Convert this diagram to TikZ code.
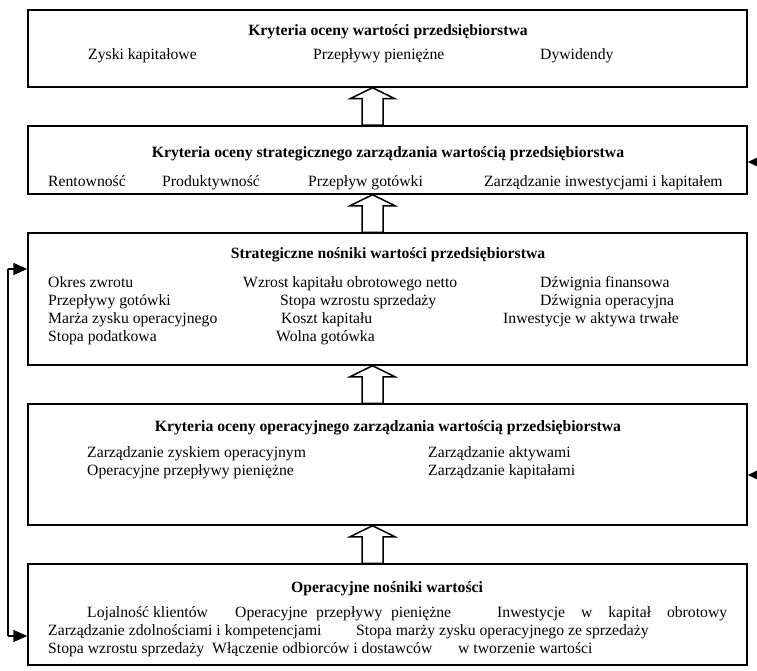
\documentclass[tikz,border=0pt]{standalone}
\usepackage{fontspec}
\setmainfont{Liberation Serif}
\usetikzlibrary{arrows.meta,calc}
\begin{document}
\begin{tikzpicture}[x=1pt,y=-1pt,
  box/.style={draw, line width=1.5pt, rectangle, inner sep=0pt, minimum width=719pt},
  ttl/.style={font=\fontsize{15.7}{18}\selectfont\bfseries, anchor=base, inner sep=0pt},
  itm/.style={font=\fontsize{15.7}{18}\selectfont, anchor=base west, inner sep=0pt},
  blk/.style={draw, line width=1.5pt, fill=white, line join=miter},
  rconn/.style={line width=1.5pt, -{Triangle[length=10pt,width=9pt]}},
  lconn/.style={line width=1.5pt, -{Triangle[length=14pt,width=12pt]}}
]
\useasboundingbox (0,0) rectangle (757,671);
% boxes
\node[box, minimum height=77pt]  (b1) at (387.5,48.5) {};
\node[box, minimum height=68pt]  (b2) at (387.5,160) {};
\node[box, minimum height=132pt] (b3) at (387.5,299) {};
\node[box, minimum height=121pt] (b4) at (387.5,464.5) {};
\node[box, minimum height=101pt] (b5) at (387.5,614.5) {};
% block arrows
\coordinate (ax) at (372.5,0);
\foreach \u/\l in {b1/b2,b2/b3,b3/b4,b4/b5}{
  \draw[blk] (\u.south -| ax) -- ++(22.5,11) -- ++(-12,0) |- (\l.north -| ax)
     -- ++(-10.5,0) |- ($(\u.south -| ax)+(-22.5,11)$) -- cycle;
}
% right arrows
\coordinate (r2) at (757,162);
\coordinate (r4) at (757,475);
\draw[rconn] (r2) -- (r2 -| b2.east);
\draw[rconn] (r4) -- (r4 -| b4.east);
% left connector
\coordinate (l3) at (8,269);
\coordinate (l5) at (8,636);
\draw[line width=1.5pt] (l3) -- (l5);
\draw[lconn] (l3) -- (l3 -| b3.west);
\draw[lconn] (l5) -- (l5 -| b5.west);
% box 1
\node[ttl] (t1) at (388,36) {Kryteria oceny wartości przedsiębiorstwa};
\node[itm] (i11) at (88,60) {Zyski kapitałowe};
\node[itm] (i12) at (313,60) {Przepływy pieniężne};
\node[itm] (i13) at (540,60) {Dywidendy};
% box 2
\node[ttl] (t2) at (388,158) {Kryteria oceny strategicznego zarządzania wartością przedsiębiorstwa};
\node[itm] (i21) at (48,186) {Rentowność};
\node[itm] (i22) at (162,186) {Produktywność};
\node[itm] (i23) at (308,186) {Przepływ gotówki};
\node[itm] (i24) at (484,186) {Zarządzanie inwestycjami i kapitałem};
% box 3
\node[ttl] (t3) at (388,258) {Strategiczne nośniki wartości przedsiębiorstwa};
\node[itm] (i31) at (48,287) {Okres zwrotu};
\node[itm] (i32) at (48,305) {Przepływy gotówki};
\node[itm] (i33) at (48,323) {Marża zysku operacyjnego};
\node[itm] (i34) at (48,341) {Stopa podatkowa};
\node[itm] (i35) at (243,287) {Wzrost kapitału obrotowego netto};
\node[itm] (i36) at (280,305) {Stopa wzrostu sprzedaży};
\node[itm] (i37) at (281,323) {Koszt kapitału};
\node[itm] (i38) at (276,341) {Wolna gotówka};
\node[itm] (i39) at (540,287) {Dźwignia finansowa};
\node[itm] (i310) at (540,305) {Dźwignia operacyjna};
\node[itm] (i311) at (503,323) {Inwestycje w aktywa trwałe};
% box 4
\node[ttl] (t4) at (388,431) {Kryteria oceny operacyjnego zarządzania wartością przedsiębiorstwa};
\node[itm] (i41) at (87,457) {Zarządzanie zyskiem operacyjnym};
\node[itm] (i42) at (87,475) {Operacyjne przepływy pieniężne};
\node[itm] (i43) at (428,457) {Zarządzanie aktywami};
\node[itm] (i44) at (428,475) {Zarządzanie kapitałami};
% box 5
\node[ttl] (t5) at (387,592) {Operacyjne nośniki wartości};
\node[itm] (i51) at (87,617) {Lojalność klientów};
\node[itm] (i52) at (235,617) {\makebox[216pt][s]{Operacyjne przepływy pieniężne}};
\node[itm] (i53) at (497,617) {\makebox[230pt][s]{Inwestycje w kapitał obrotowy}};
\node[itm] (i54) at (48,635) {Zarządzanie zdolnościami i kompetencjami};
\node[itm] (i55) at (356,635) {Stopa marży zysku operacyjnego ze sprzedaży};
\node[itm] (i56) at (48,653) {Stopa wzrostu sprzedaży};
\node[itm] (i57) at (212,653) {Włączenie odbiorców i dostawców};
\node[itm] (i58) at (458,653) {w tworzenie wartości};
\end{tikzpicture}
\end{document}
